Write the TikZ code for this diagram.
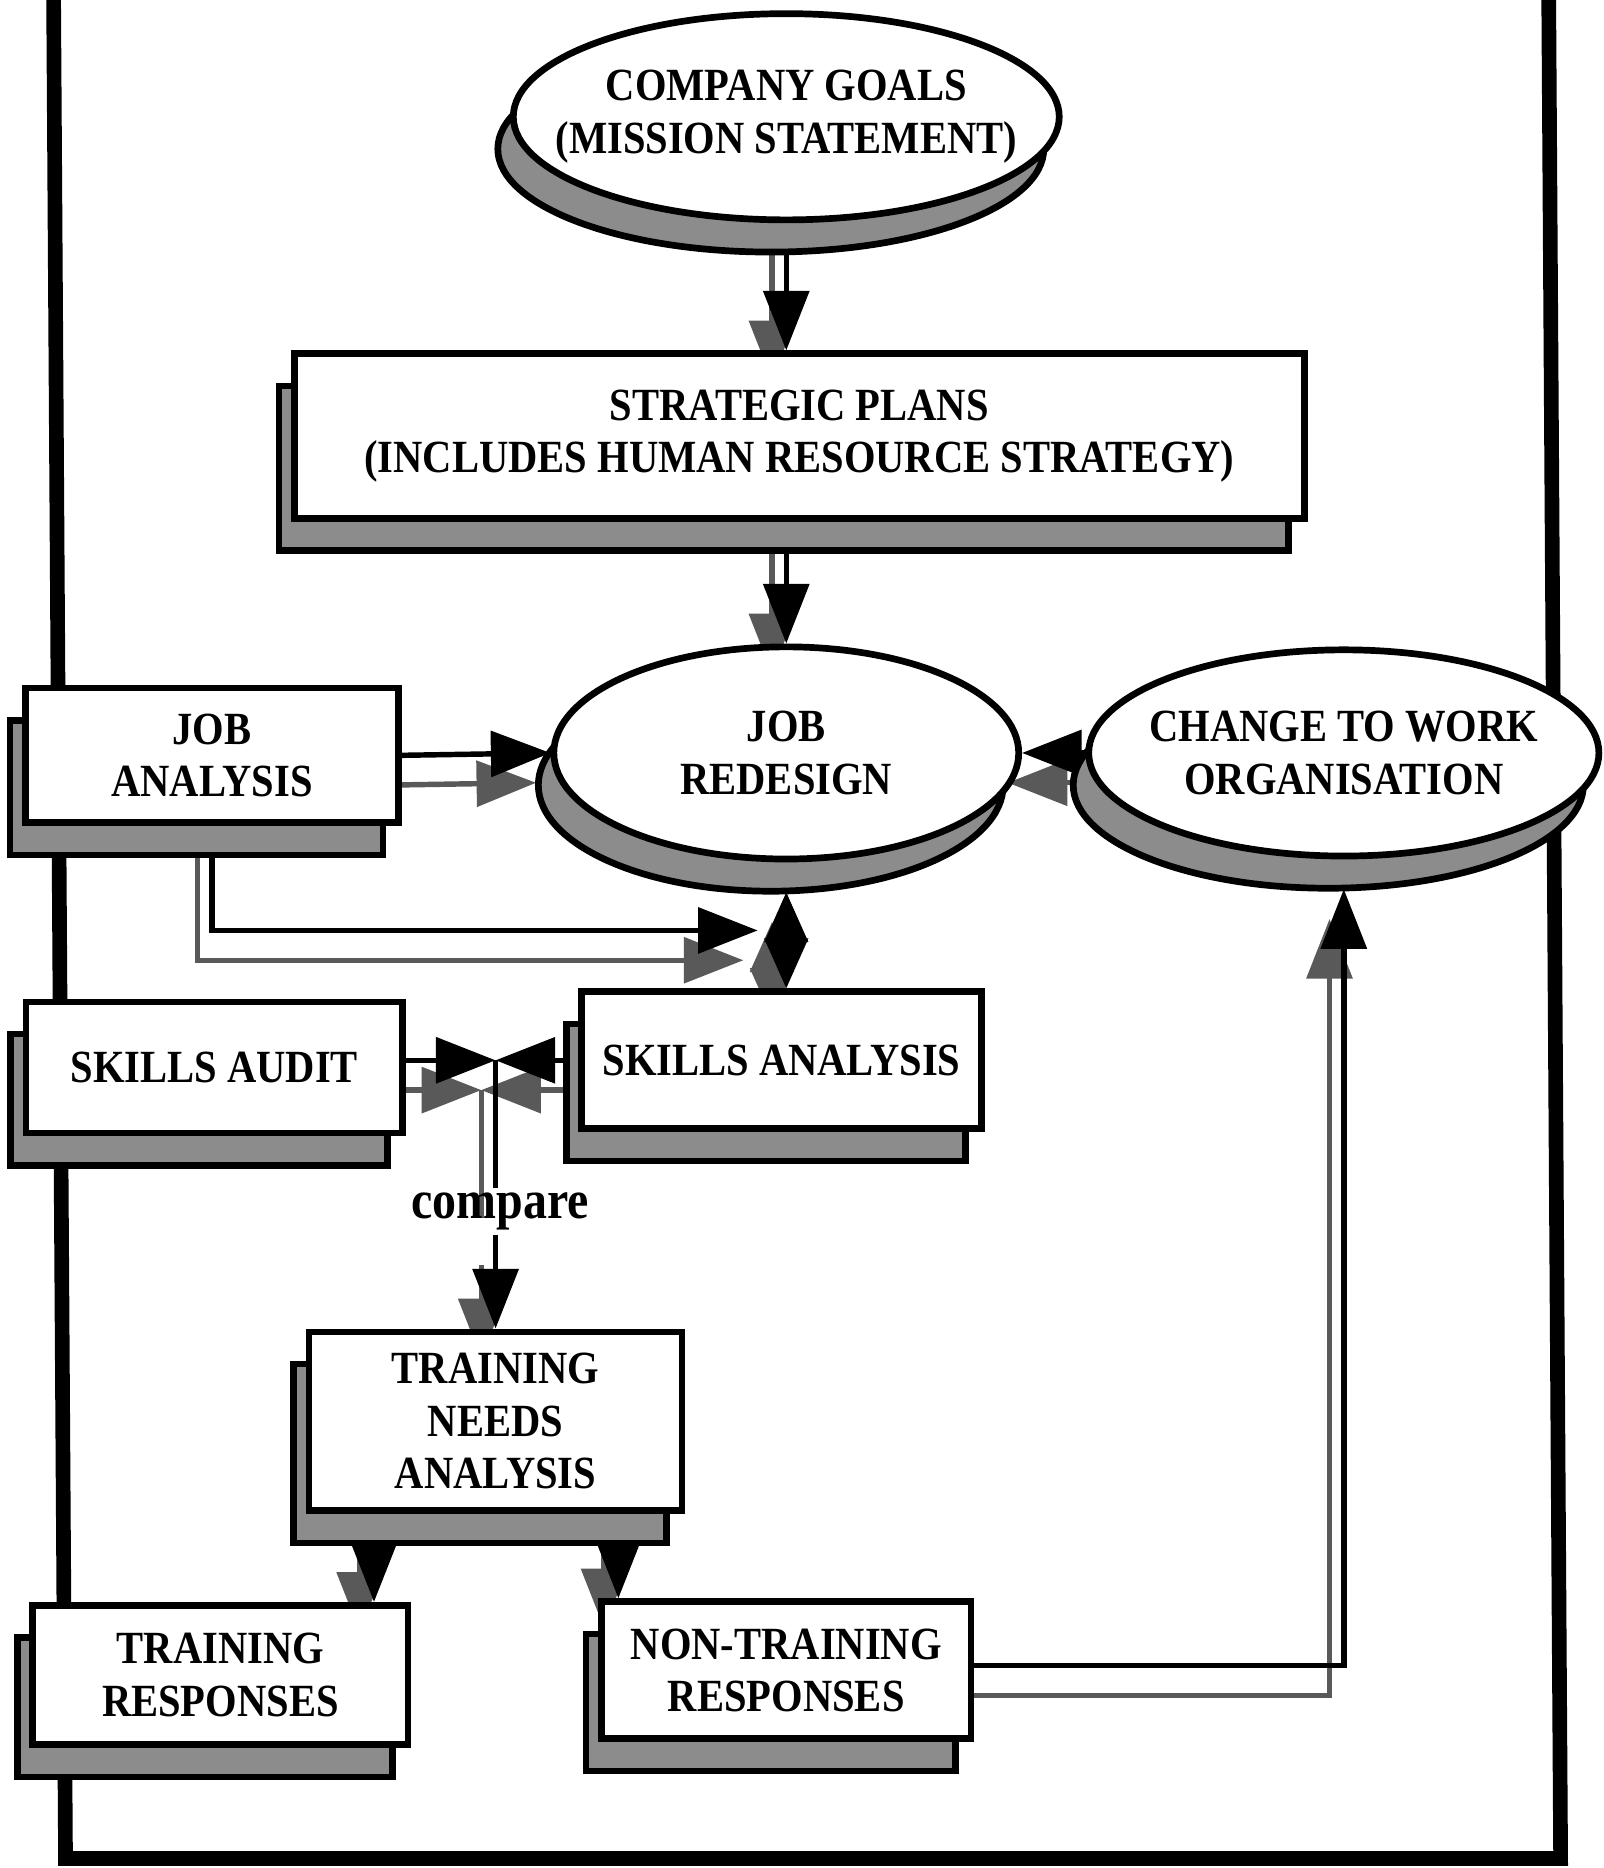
\documentclass[tikz,border=0pt]{standalone}
\usepackage{fontspec}
\setmainfont{Liberation Serif}[FakeStretch=0.88]
\usetikzlibrary{positioning}
\usetikzlibrary{shapes.geometric,arrows.meta,backgrounds}

\begin{document}
\begin{tikzpicture}[x=0.01cm, y=-0.01cm,
                    shadowbox/.style={rectangle,
                                      draw=black, line width=1.6pt, fill=white,
                                      inner sep=0mm, align=center,
                                      font=\bfseries\fontsize{11}{12.5}\selectfont,
                                      preaction={fill=black!45, draw=black, line width=1.6pt,
                                                 transform canvas={xshift=-0.13cm, yshift=-0.27cm}}
                                     },
                    shadowoval/.style={shadowbox, ellipse, inner xsep=-1cm, inner ysep=-0.5cm},
                    connector/.style={line width=1.3pt,
                                      -{Triangle[length=0.5cm, width=0.38cm]},
                                      preaction={draw=black!65, line width=1.3pt,
                                                 transform canvas={xshift=-0.12cm, yshift=-0.25cm}}
                                     },
                    frameline/.style={line width=3.5pt}
                   ]
  \useasboundingbox (0,0) rectangle (1346,1568);

  \node[shadowoval, minimum width=4.58cm, minimum height=1.73cm] (goals) at (660,98) {COMPANY GOALS\\(MISSION STATEMENT)};
  \node[shadowbox, minimum width=8.47cm, minimum height=1.38cm] (plans) at (671,366) {STRATEGIC PLANS\\(INCLUDES HUMAN RESOURCE STRATEGY)};
  \node[shadowoval, minimum width=3.9cm, minimum height=1.78cm] (redesign) at (660,632) {JOB\\REDESIGN};
  \node[shadowoval, minimum width=4.28cm, minimum height=1.73cm] (change) at (1128,632) {CHANGE TO WORK\\ORGANISATION};
  \node[shadowbox, minimum width=3.13cm, minimum height=1.13cm] (jobanalysis) at (178,634) {JOB\\ANALYSIS};
  \node[shadowbox, minimum width=3.16cm, minimum height=1.1cm] (skillsaudit) at (180,896) {SKILLS AUDIT};
  \node[shadowbox, minimum width=3.35cm, minimum height=1.15cm] (skillsanalysis) at (656,890) {SKILLS ANALYSIS};
  \node[font=\bfseries\fontsize{13}{15}\selectfont, inner sep=1pt] (compare) at (420,1017) {compare};
  \node[shadowbox, minimum width=3.13cm, minimum height=1.5cm] (needs) at (416,1193) {TRAINING\\NEEDS\\ANALYSIS};
  \node[shadowbox, minimum width=3.15cm, minimum height=1.17cm] (trainresp) at (185,1406) {TRAINING\\RESPONSES};
  \node[shadowbox, minimum width=3.1cm, minimum height=1.15cm] (nontrainresp) at (660,1402) {NON-TRAINING\\RESPONSES};

  \begin{pgfonlayer}{background}
    % frame round the chart
    \draw[frameline] (45,0) -- (55,1560) -- (1310,1560) -- (1300,0);
    \draw[connector] (goals.south) -- (plans.north -| goals.south);
    \draw[connector] (plans.south -| redesign.north) -- (redesign.north);
    \draw[connector] (jobanalysis.east) -- (redesign.west);
    \draw[connector] (change.west) -- (redesign.east);
    \coordinate (meet) at (636,781);
    \draw[connector] (jobanalysis.south) |- (meet);
    \draw[connector, {Triangle[length=0.42cm, width=0.36cm]}-{Triangle[length=0.42cm, width=0.36cm]}]
      ([yshift=-0.25cm]redesign.south) -- (redesign.south |- skillsanalysis.north);
    % skills compared
    \coordinate (junc) at (416,890);
    \draw[connector] (skillsaudit.east |- junc) -- (junc);
    \draw[connector] (skillsanalysis.west |- junc) -- (junc);
    \draw[line width=1.3pt, preaction={draw=black!65, line width=1.3pt, transform canvas={xshift=-0.12cm, yshift=-0.25cm}}]
      (junc) -- (junc |- compare.north);
    \draw[connector] (compare.south -| needs.north) -- (needs.north);
    \draw[connector] ([xshift=-1.02cm]needs.south) -- ([xshift=-1.02cm]needs.south |- trainresp.north);
    \draw[connector] ([xshift=1.03cm]needs.south) -- ([xshift=1.03cm]needs.south |- nontrainresp.north);
    \draw[connector] ([yshift=0.04cm]nontrainresp.east) -| ([yshift=-0.25cm]change.south);
  \end{pgfonlayer}
\end{tikzpicture}
\end{document}
